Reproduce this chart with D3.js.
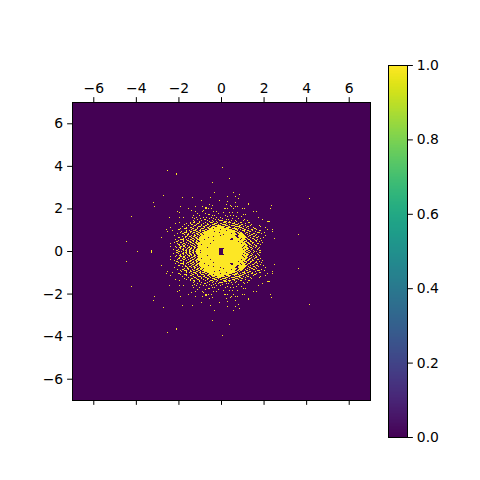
<!DOCTYPE html>
<html>
<head>
<meta charset="utf-8">
<script src="https://cdn.jsdelivr.net/npm/d3@7"></script>
<style>
  body { margin: 0; background: #fff; }
  text { font-family: "DejaVu Sans", sans-serif; }
</style>
</head>
<body>
<svg id="chart" width="480" height="480"></svg>
<script>
var xTicks = [-6, -4, -2, 0, 2, 4, 6]
var yTicks = [-6, -4, -2, 0, 2, 4, 6]
var colorTicks = [0, 0.2, 0.4, 0.6, 0.8, 1]
var extent = [-7, 7]
var gridSize = 298

// cells equal to 1 in the top half of the matrix, as [row, columns]
// a number is a single column, a pair is a run of columns
// the picture is mirrored top to bottom around row 149
var yellowRows = [
  [65, [150]],
  [68, [95]],
  [71, [104]],
  [72, [104]],
  [76, [157]],
  [80, [140]],
  [90, [142, 161]],
  [92, [167]],
  [93, [91]],
  [94, [155, 163]],
  [95, [110, 120, 138]],
  [96, [166, 237]],
  [98, [129, 147]],
  [99, [155]],
  [100, [81, 163]],
  [101, [176]],
  [102, [137, 154, 176]],
  [103, [140, 158, 199]],
  [104, [82, 108, 123, 130, 159, 163, 165]],
  [105, [[133, 134]]],
  [106, [116, [133, 134], 136, 139, [152, 153], 155, 161, 170, 172, 198]],
  [108, [119, 131]],
  [109, [105, 123, 130, 141, 144, 181, 184]],
  [110, [107, 151, 157, 160, 165]],
  [111, [125, 133, 146]],
  [112, [[136, 137], 171, 173]],
  [113, [121, 127, 140, 142, 153, 158, 161]],
  [114, [59, 155, 164, 169]],
  [115, [97, 107, 111, 120, 124, 131, 134, 139, 144, 148, 186]],
  [116, [122, 128, 137, 141, 150, 160, 166]],
  [117, [125, [132, 133], 143, 146, 154, 156, 172, 190]],
  [118, [121, 129, 135, 140, [147, 150], 159, 163, 171, 175]],
  [119, [122, 127, 137, 141, 144, [152, 154], 157, 164, [195, 197]]],
  [120, [107, 118, [121, 122], 127, 133, [138, 140], 145, [151, 153], [156, 158], 162, [168, 169], [176, 177]]],
  [121, [103, 114, 118, [125, 126], 131, 135, [142, 144], [148, 149], 154, [160, 162], 166, 173]],
  [122, [112, [119, 120], 124, 129, [135, 136], [140, 142], 146, [150, 153], 157, [163, 165], [169, 170], 179]],
  [123, [116, [122, 123], 129, [133, 134], 138, [143, 148], [153, 155], [159, 162], [167, 168], 173, 178, 187]],
  [124, [110, 121, [126, 128], [131, 132], 137, [140, 142], [145, 152], [156, 157], [163, 167], 171, [175, 176], 188]],
  [125, [98, 114, [118, 119], 125, 132, [135, 136], [139, 151], [154, 158], 162, [167, 169], 174, 181, 193]],
  [126, [108, [112, 114], [120, 121], 125, [129, 131], [136, 140], [142, 156], [160, 164], 166, [170, 171], 176, [182, 183]]],
  [127, [94, [106, 107], 119, [123, 124], 128, [133, 134], [137, 147], [149, 159], [163, 165], 168, [172, 173], [179, 180], 184, 195, 200]],
  [128, [100, 114, 117, [121, 123], [127, 128], [130, 132], [135, 153], [155, 162], 165, [170, 172], [175, 176], 180, [187, 188]]],
  [129, [95, 109, 114, [118, 119], [124, 125], 128, [132, 141], [143, 164], 167, 172, [177, 178], 183, 200]],
  [130, [108, [112, 114], 118, [121, 122], [126, 127], [130, 146], [148, 162], [165, 166], [168, 169], [174, 175], [185, 187], 192]],
  [131, [105, [110, 111], 116, 120, [124, 125], [128, 129], [131, 158], [160, 163], [166, 170], 173, 177, [181, 182], 189]],
  [132, [112, [115, 116], 122, [125, 126], [128, 130], [132, 150], [152, 164], [167, 171], 175, [179, 180], 184, 226]],
  [133, [102, 115, 119, [122, 123], 127, [129, 147], [149, 162], [166, 172], [177, 178], 183, 193]],
  [134, [110, [113, 114], [117, 118], [121, 122], 125, [128, 140], [142, 163], [166, 173], 176, [181, 182], 186]],
  [135, [89, [106, 107], 113, 119, [123, 124], [127, 135], [137, 164], [167, 174], 178, [184, 185], 191]],
  [136, [111, 116, [120, 121], [124, 125], [127, 158], [161, 168], [170, 172], 175, [180, 181], 188, 202]],
  [137, [103, [108, 111], 114, [118, 119], 122, [125, 131], [133, 157], [161, 167], [169, 173], [176, 177], 182, 185]],
  [138, [106, 111, [115, 116], [120, 121], 124, [127, 140], [142, 171], 174, 178, [183, 184], 189]],
  [139, [54, [104, 105], 111, [117, 118], 121, [124, 125], [128, 165], [167, 170], [172, 174], [178, 179], 184, 187]],
  [140, [102, [108, 109], 114, [118, 119], [123, 124], [126, 172], [175, 176], [180, 181], 190]],
  [141, [98, 105, [111, 112], 116, [120, 121], [124, 137], [139, 168], [170, 173], [176, 177], 180, [185, 186]]],
  [142, [[106, 107], 110, 113, 118, 122, [125, 128], [130, 174], [177, 178], 182, 188]],
  [143, [107, [111, 112], 115, [119, 120], 123, [126, 171], [173, 175], 179, [183, 184]]],
  [144, [98, 103, [108, 109], [111, 112], 117, [121, 122], [125, 170], [172, 174], 177, 181, 184]],
  [145, [104, [107, 108], 113, [116, 117], 119, [122, 123], [126, 134], [136, 169], [171, 175], [178, 179], 183, 187]],
  [146, [108, 111, 115, [118, 119], 122, [125, 146], [152, 172], [174, 176], 180, 186]],
  [147, [101, 106, [110, 111], 114, [117, 118], 121, [124, 146], [151, 170], [172, 175], 179, 185]],
  [148, [79, [104, 105], 111, [113, 114], 117, [120, 121], [124, 127], [129, 146], [151, 173], [176, 177], 181, [187, 188]]],
  [149, [65, 79, [106, 107], 109, 114, [117, 118], 121, [123, 146], [151, 172], [174, 175], 178, 182, 184]]
]

var svg = d3.select("#chart")

var x = d3.scaleLinear().domain(extent).range([72, 370])
var y = d3.scaleLinear().domain(extent).range([400, 102])
var cell_x = d3.scaleLinear().domain([0, gridSize]).range(extent)
var cell_y = d3.scaleLinear().domain([0, gridSize]).range([extent[1], extent[0]])
var color = d3.scaleSequential(d3.interpolateViridis).domain([0, 1])
var bar_y = d3.scaleLinear().domain([0, 1]).range([437, 65])

function fmt(d){
  return String(d).replace("-", "\u2212")
}

function draw_cell_run(row, c0, c1){
  svg.select("#cells").append("rect")
    .attr("x", x(cell_x(c0)))
    .attr("y", y(cell_y(row)))
    .attr("width", x(cell_x(c1 + 1)) - x(cell_x(c0)))
    .attr("height", y(cell_y(row + 1)) - y(cell_y(row)))
    .attr("fill", color(1))
}

// matrix background, all zeros
svg.append("rect")
  .attr("x", x(extent[0]))
  .attr("y", y(extent[1]))
  .attr("width", x(extent[1]) - x(extent[0]))
  .attr("height", y(extent[0]) - y(extent[1]))
  .attr("fill", color(0))

svg.append("g").attr("id", "cells").attr("shape-rendering", "crispEdges")

yellowRows.forEach(function(r){
  r[1].forEach(function(c){
    var c0 = Array.isArray(c) ? c[0] : c
    var c1 = Array.isArray(c) ? c[1] : c
    draw_cell_run(r[0], c0, c1)
    if (r[0] != gridSize / 2) { draw_cell_run(gridSize - r[0], c0, c1) }
  })
})

function style_axis(g){
  g.selectAll("text").attr("font-size", "13.9px").attr("fill", "#000")
    .style("font-family", '"DejaVu Sans", sans-serif')
  g.selectAll("line").attr("stroke", "#000").attr("stroke-width", 1)
  g.select(".domain").remove()
}

svg.append("g").attr("transform", "translate(0,102)")
  .call(d3.axisTop(x).tickValues(xTicks).tickFormat(fmt).tickSize(4.86).tickPadding(4))
  .call(style_axis)

svg.append("g").attr("transform", "translate(0,400)")
  .call(d3.axisBottom(x).tickValues(xTicks).tickFormat("").tickSize(4.86))
  .call(style_axis)

svg.append("g").attr("transform", "translate(72,0)")
  .call(d3.axisLeft(y).tickValues(yTicks).tickFormat(fmt).tickSize(4.86).tickPadding(4))
  .call(style_axis)

svg.append("rect")
  .attr("x", 72.5).attr("y", 102.5).attr("width", 298).attr("height", 298)
  .attr("fill", "none").attr("stroke", "#000").attr("stroke-width", 1)

// colorbar
var levels = d3.range(256).map(function(i){ return i / 255 })
var bar_step = (bar_y(0) - bar_y(1)) / levels.length
svg.append("g").attr("shape-rendering", "crispEdges").selectAll("rect")
  .data(levels)
  .join("rect")
    .attr("x", 389)
    .attr("width", 19)
    .attr("y", function(d, i){ return bar_y(0) - (i + 1) * bar_step })
    .attr("height", bar_step + 0.5)
    .attr("fill", function(d){ return color(d) })

svg.append("g").attr("transform", "translate(408,0)")
  .call(d3.axisRight(bar_y).tickValues(colorTicks).tickFormat(d3.format(".1f")).tickSize(4.86).tickPadding(4))
  .call(style_axis)

svg.append("rect")
  .attr("x", 388.5).attr("y", 65.5).attr("width", 19).attr("height", 372)
  .attr("fill", "none").attr("stroke", "#000").attr("stroke-width", 1)
</script>
</body>
</html>
